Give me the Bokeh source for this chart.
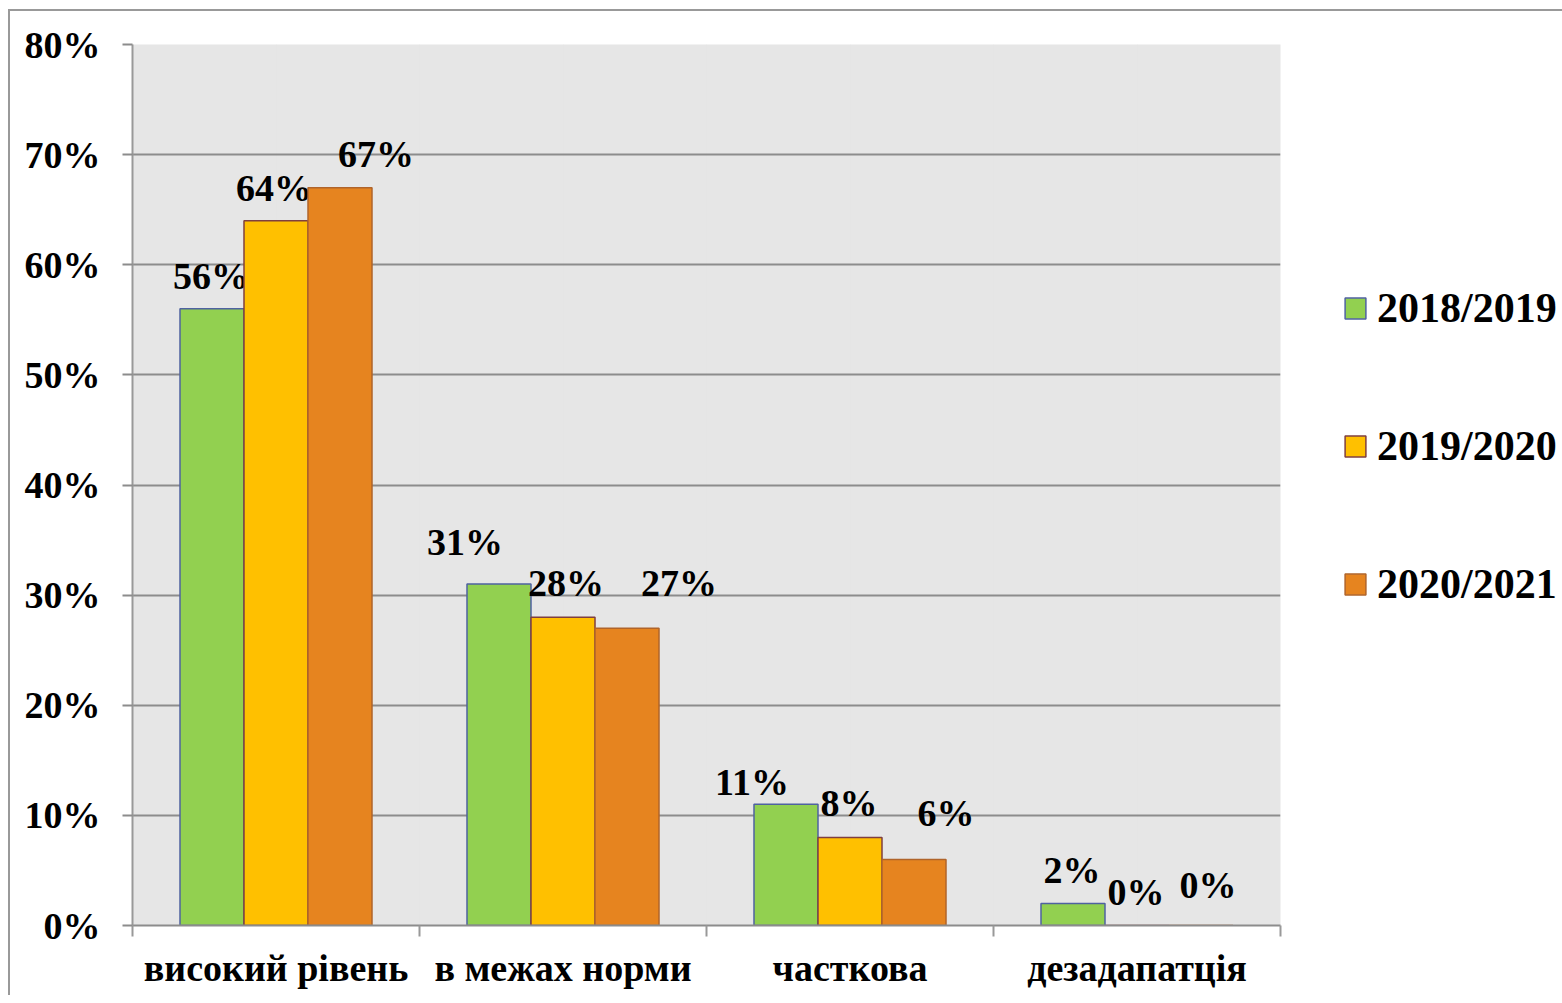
from bokeh.plotting import figure
from bokeh.models import (ColumnDataSource, Range1d, FixedTicker, LinearAxis,
                          NumeralTickFormatter, Legend, LegendItem, Grid)
from bokeh.transform import dodge
from bokeh.core.properties import value
from bokeh.embed import file_html
from bokeh.resources import INLINE

# ---- data ----
categories = ["високий рівень", "в межах норми", "часткова", "дезадапатція"]
years = ["2018/2019", "2019/2020", "2020/2021"]
values_2018_2019 = [56, 31, 11, 2]
values_2019_2020 = [64, 28, 8, 0]
values_2020_2021 = [67, 27, 6, 0]
y_ticks = [0, 10, 20, 30, 40, 50, 60, 70, 80]

# ---- styles ----
fills = ["#92D050", "#FFC000", "#E6841F"]
lines = ["#4F62A0", "#7F3F3F", "#B0642A"]
bar_offsets = [-0.223, 0.0, 0.223]
bar_width = 0.223
# data-label nudges in pixels (dx right, dy above bar top)
label_dx = [[-1, -34, -34, -1], [-2, 3, -1, -1], [36, 52, 32, 7]]
label_dy = [[19, 28, 8, 19], [19, 20, 20, 20], [20, 31, 32, 27]]
baseline_fix = 14

FONT = "Liberation Serif"
GRID = "#8C8C8C"
AXIS = "#999999"

n = len(categories)
centres = [i + 0.5 for i in range(n)]

p = figure(x_range=Range1d(0, n), y_range=Range1d(0, 0.8),
           frame_width=1148, frame_height=881,
           min_border_left=122, min_border_top=33, min_border_bottom=70, min_border_right=280,
           output_backend="svg", toolbar_location=None,
           x_axis_location=None, y_axis_location=None,
           background_fill_color="#E6E6E6", border_fill_color="white",
           outline_line_color=None)
p.styles = {"margin-top": "9px", "margin-left": "8px",
            "border-top": "2px solid #999999", "border-left": "2px solid #999999"}

# y axis
yaxis = LinearAxis(ticker=FixedTicker(ticks=[t / 100 for t in y_ticks], minor_ticks=[]),
                   formatter=NumeralTickFormatter(format="0%"))
yaxis.axis_line_color = AXIS
yaxis.axis_line_width = 2
yaxis.major_tick_line_color = GRID
yaxis.major_tick_line_width = 2
yaxis.major_tick_out = 10
yaxis.major_tick_in = 0
yaxis.minor_tick_line_color = None
yaxis.major_label_standoff = 22
yaxis.major_label_text_font = FONT
yaxis.major_label_text_font_style = "bold"
yaxis.major_label_text_font_size = "38px"
yaxis.major_label_text_color = "black"
p.add_layout(yaxis, "left")

# x axis (ticks at category boundaries, labels at centres)
xaxis = LinearAxis(ticker=FixedTicker(ticks=centres, minor_ticks=list(range(n + 1))))
xaxis.major_label_overrides = {c: name for c, name in zip(centres, categories)}
xaxis.axis_line_color = GRID
xaxis.axis_line_width = 2
xaxis.major_tick_line_color = None
xaxis.major_tick_out = 0
xaxis.major_tick_in = 0
xaxis.minor_tick_line_color = AXIS
xaxis.minor_tick_line_width = 2
xaxis.minor_tick_out = 11
xaxis.minor_tick_in = 0
xaxis.major_label_standoff = 10
xaxis.major_label_text_font = FONT
xaxis.major_label_text_font_style = "bold"
xaxis.major_label_text_font_size = "38px"
xaxis.major_label_text_color = "black"
p.add_layout(xaxis, "below")

p.add_layout(Grid(dimension=1, ticker=yaxis.ticker, grid_line_color=GRID, grid_line_width=2))

series = [values_2018_2019, values_2019_2020, values_2020_2021]
items = []
for k, vals in enumerate(series):
    src = ColumnDataSource(dict(
        x=centres,
        cat=categories,
        val=[v / 100 for v in vals],
        label=[f"{v}%" for v in vals],
        dx=label_dx[k],
        dy=[-(d + baseline_fix) for d in label_dy[k]],
    ))
    r = p.vbar(x=dodge("x", bar_offsets[k]), top="val", bottom=0,
               width=bar_width, source=src, fill_color=fills[k], line_color=lines[k],
               line_width=1.5)
    p.text(x=dodge("x", bar_offsets[k]), y="val", text="label",
           x_offset="dx", y_offset="dy", source=src,
           text_font=value(FONT), text_font_style="bold", text_font_size="38px",
           text_color="black", text_align="center", text_baseline="alphabetic")
    items.append(LegendItem(label=years[k], renderers=[r]))

legend = Legend(items=items, location=(62, 316))
legend.border_line_color = None
legend.background_fill_color = None
legend.padding = 0
legend.margin = 0
legend.glyph_width = 26
legend.glyph_height = 26
legend.label_height = 50
legend.spacing = 88
legend.label_standoff = 9
legend.label_text_font = FONT
legend.label_text_font_style = "bold"
legend.label_text_font_size = "42px"
legend.label_text_color = "black"
legend.label_text_baseline = "middle"
p.add_layout(legend, "right")

open("out.html", "w").write(file_html(p, INLINE))
